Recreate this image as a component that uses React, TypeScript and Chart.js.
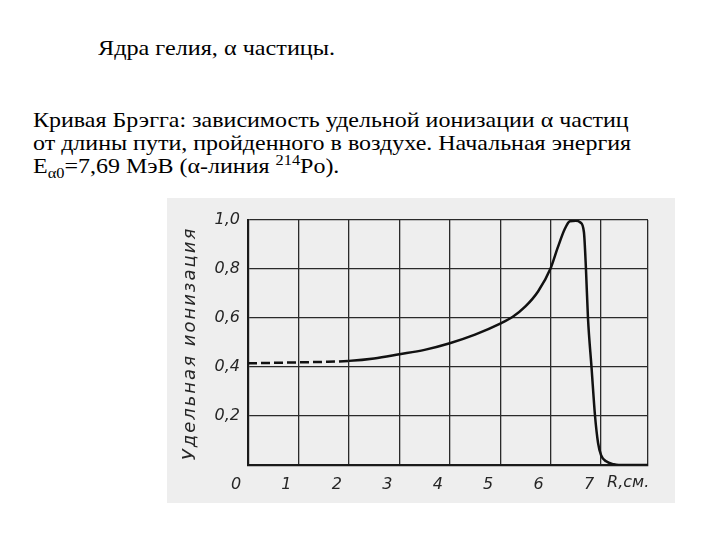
import React, { useEffect, useRef } from "react";
import { Chart, registerables } from "chart.js";

Chart.register(...registerables);

// Path length R, cm
const rangeCm = [
  0, 0.5, 1, 1.5, 2, 2.5, 3, 3.5, 4, 4.5, 5, 5.25, 5.5, 5.75, 6.0, 6.14, 6.28,
  6.38, 6.5, 6.59, 6.66, 6.7, 6.74, 6.81, 6.88, 6.94, 7.0, 7.1, 7.25, 7.35, 7.93,
];
// Specific ionization (relative units)
const ionization = [
  0.415, 0.417, 0.419, 0.421, 0.425, 0.435, 0.452, 0.47, 0.497, 0.532, 0.577,
  0.605, 0.647, 0.708, 0.803, 0.887, 0.963, 0.995, 0.997, 0.99, 0.95, 0.8, 0.6,
  0.4, 0.2, 0.09, 0.04, 0.015, 0.003, 0, 0,
];
const dashedUntil = 2;

const xTickValues = [0, 1, 2, 3, 4, 5, 6, 7, 7.93];
const xTickLabels = ["0", "1", "2", "3", "4", "5", "6", "7", ""];
const yTickLabels = ["", "0,2", "0,4", "0,6", "0,8", "1,0"];
const xUnitLabel = "R,см.";
const yTitle = "Удельная ионизация";

const labelFont = '"DejaVu Sans"';
const inkColor = "#262626";

const annotationPlugin = {
  id: "braggAnnotations",
  afterDraw(chart: any) {
    const ctx = chart.ctx as CanvasRenderingContext2D;
    const xs = chart.scales.x;
    const area = chart.chartArea;
    ctx.save();
    ctx.fillStyle = inkColor;
    ctx.font = `italic 16px ${labelFont}`;
    ctx.textBaseline = "middle";
    ctx.textAlign = "left";
    ctx.fillText(xUnitLabel, xs.getPixelForValue(7) + 6, area.bottom + 18);
    ctx.restore();

    ctx.save();
    ctx.fillStyle = inkColor;
    ctx.translate(25, (area.top + area.bottom) / 2 + 1);
    ctx.rotate(-Math.PI / 2);
    (ctx as any).letterSpacing = "2px";
    ctx.font = `italic 18px ${labelFont}`;
    ctx.textAlign = "center";
    ctx.textBaseline = "middle";
    ctx.fillText(yTitle, 0, 0);
    ctx.restore();
  },
};

function BraggChart() {
  const ref = useRef<HTMLCanvasElement | null>(null);
  useEffect(() => {
    if (!ref.current) return;
    const chart = new Chart(ref.current, {
      type: "line",
      data: {
        datasets: [
          {
            data: rangeCm.map((x, i) => ({ x, y: ionization[i] })),
            borderColor: "#111",
            borderWidth: 2.5,
            pointRadius: 0,
            fill: false,
            cubicInterpolationMode: "monotone",
            segment: {
              borderDash: (c: any) =>
                c.p1.parsed.x <= dashedUntil ? [9, 4] : undefined,
            },
          },
        ],
      },
      options: {
        animation: false,
        responsive: false,
        maintainAspectRatio: false,
        layout: { padding: { top: 22, right: 27, left: 0, bottom: 0 } },
        plugins: {
          legend: { display: false },
          tooltip: { enabled: false },
          title: { display: false },
        },
        scales: {
          x: {
            type: "linear",
            min: 0,
            max: 7.93,
            afterBuildTicks: (s: any) => {
              s.ticks = xTickValues.map((value) => ({ value }));
            },
            afterFit: (s: any) => {
              s.height = 40;
            },
            grid: {
              color: "#2a2a2a",
              lineWidth: 1.3,
              drawTicks: false,
            },
            border: { color: "#1a1a1a", width: 2.2 },
            ticks: {
              padding: 10,
              labelOffset: -12,
              maxRotation: 0,
              autoSkip: false,
              color: inkColor,
              font: { family: labelFont, size: 16, style: "italic" },
              callback: (v: any) => {
                const idx = xTickValues.indexOf(Number(v));
                return idx >= 0 ? xTickLabels[idx] : "";
              },
            },
          },
          y: {
            type: "linear",
            min: 0,
            max: 1,
            afterFit: (s: any) => {
              s.width = 83;
            },
            grid: {
              color: "#2a2a2a",
              lineWidth: 1.3,
              drawTicks: false,
            },
            border: { color: "#1a1a1a", width: 2.2 },
            ticks: {
              stepSize: 0.2,
              padding: 8,
              color: inkColor,
              font: { family: labelFont, size: 16, style: "italic" },
              callback: (v: any) => yTickLabels[Math.round(Number(v) / 0.2)] ?? "",
            },
          },
        },
      },
      plugins: [annotationPlugin],
    });
    return () => chart.destroy();
  }, []);
  return (
    <canvas
      ref={ref}
      width={510}
      height={307}
      style={{ position: "absolute", left: 165, top: 198, width: 510, height: 307 }}
    />
  );
}

export default function App() {
  const serif = '"Liberation Serif", "Times New Roman", serif';
  return (
    <div
      style={{
        position: "fixed",
        left: 0,
        top: 0,
        width: 720,
        height: 540,
        background: "#ffffff",
        overflow: "hidden",
        fontFamily: serif,
        color: "#000",
      }}
    >
      <div
        style={{
          position: "absolute",
          left: 98,
          top: 36,
          fontSize: 22,
          lineHeight: "24px",
          whiteSpace: "nowrap",
          transform: "scaleX(1.1)",
          transformOrigin: "0 0",
        }}
      >
        Ядра гелия, α частицы.
      </div>
      <div
        style={{
          position: "absolute",
          left: 33,
          top: 108,
          fontSize: 22,
          lineHeight: "23px",
          whiteSpace: "nowrap",
          transform: "scaleX(1.09)",
          transformOrigin: "0 0",
        }}
      >
        Кривая Брэгга: зависимость удельной ионизации α частиц
        <br />
        от длины пути, пройденного в воздухе. Начальная энергия
        <br />
        E<sub style={{ fontSize: 15, lineHeight: 0 }}>α0</sub>=7,69 МэВ (α-линия{" "}
        <sup style={{ fontSize: 15, lineHeight: 0 }}>214</sup>Po).
      </div>
      <div
        style={{
          position: "absolute",
          left: 167,
          top: 198,
          width: 508,
          height: 305,
          background: "#eeeeee",
        }}
      />
      <BraggChart />
    </div>
  );
}
